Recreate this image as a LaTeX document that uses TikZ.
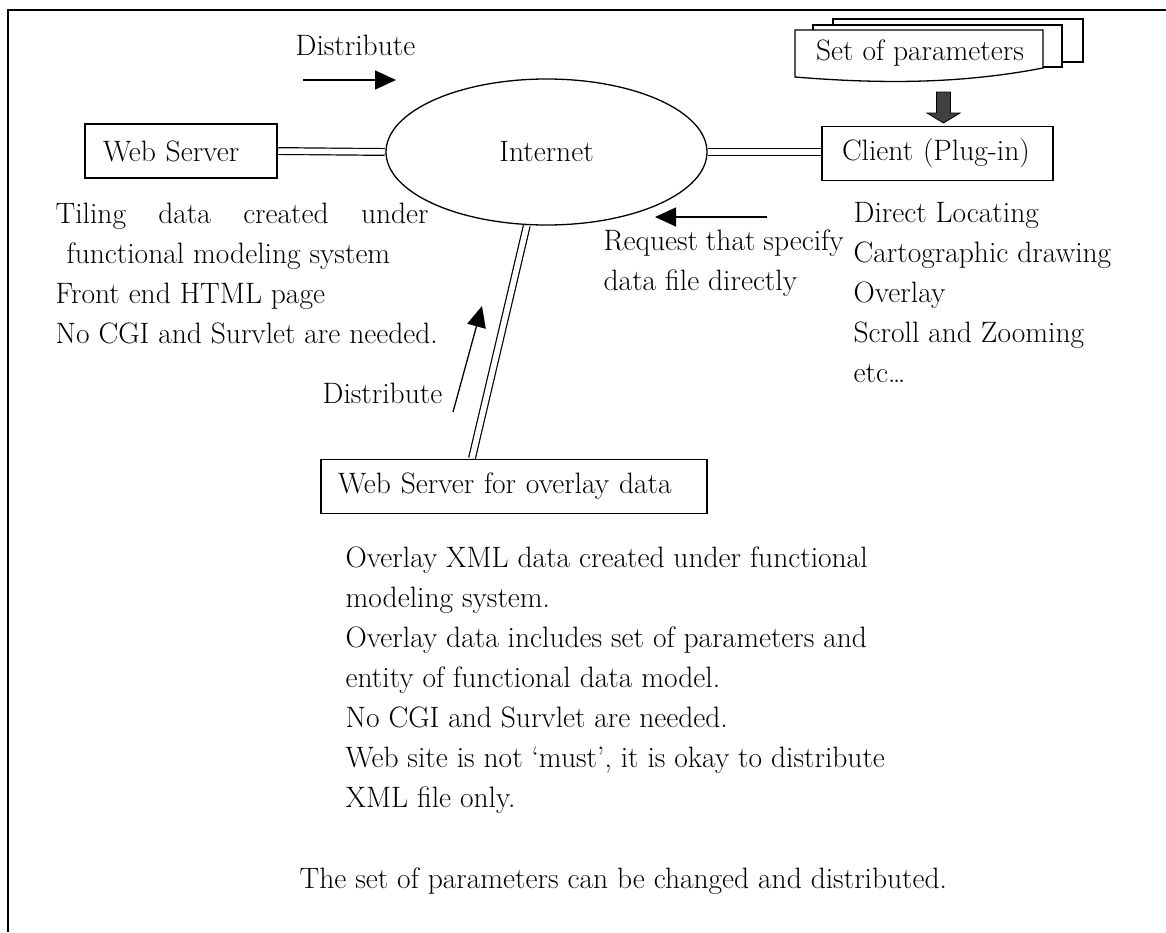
\documentclass[tikz,border=0pt]{standalone}
\usepackage{fontspec}
\usetikzlibrary{shapes.geometric,arrows.meta}
\newcommand\picfont{\fontsize{29.5}{40}\selectfont}
\definecolor{arrowgray}{HTML}{404040}

\begin{document}
\begin{tikzpicture}[x=1pt,y=-1pt,line width=1.3pt,
  box/.style={draw,rectangle,font=\picfont,inner ysep=0pt,align=left,minimum height=54pt},
  txt/.style={font=\picfont,inner sep=0pt,anchor=north west,align=left},
  lbl/.style={font=\picfont,inner sep=0pt,anchor=base west},
  dbl/.style={double,double distance=5.5pt,line width=1.2pt,shorten <=0.6pt,shorten >=0.6pt},
  arr/.style={-{Triangle[length=21pt,width=19pt]}}]
\useasboundingbox (0,0) rectangle (1166,932);
\draw (8,932) -- (8,10) -- (1166,10);

\node[box,inner xsep=18pt,text width=156pt] (web) at (181,151) {Web Server};
\node[draw,ellipse,font=\picfont,minimum width=321pt,minimum height=146pt,inner sep=0pt] (inet) at (546.5,152) {Internet};
\node[box,inner xsep=20pt,text width=191pt] (client) at (937.5,153.5) {Client (Plug-in)};
\node[box,inner xsep=17pt,text width=352pt] (overlay) at (514,486.5) {Web Server for overlay data};

\draw[fill=white] (833,19) rectangle (1083,62);
\draw[fill=white] (813,25) rectangle (1062,67);
\draw[fill=white] (795,30) -- (1043,30) -- (1043,68) .. controls (960,84) and (880,84) .. (795,77) -- cycle;
\node[font=\picfont,inner sep=0pt,anchor=base] (params) at (920,60) {Set of parameters};
\draw[fill=arrowgray,line width=0.8pt] (936.5,92) -- ++(14,0) -- ++(0,21) -- ++(9.5,0) -- (943.5,123) -- (927,113) -- ++(9.5,0) -- cycle;

\draw[dbl] (web.east) -- (inet.west);
\draw[dbl] (inet.east) -- (inet.east -| client.west);
\coordinate (ovtop) at ([xshift=151.5pt]overlay.north west);
\draw[dbl] (inet.-105) -- (ovtop);

\node[lbl] (dist1) at (295,55) {Distribute};
\coordinate (d1a) at (303,80);
\coordinate (d1b) at (396,80);
\draw[arr] (d1a) -- (d1b);

\node[lbl] (dist2) at (322,403) {Distribute};
\coordinate (d2a) at (453,412);
\coordinate (d2b) at (482,306);
\draw[arr] (d2a) -- (d2b);

\coordinate (rqa) at (767,217);
\coordinate (rqb) at (655,217);
\draw[arr] (rqa) -- (rqb);
\node[txt] (req) at (603,222) {\strut\makebox[240pt][s]{Request that specify}\\data file directly};

\node[txt] (tiling) at (55,195) {\strut\makebox[373pt][s]{Tiling data created under}\\\hspace*{11pt}functional modeling system\\Front end HTML page\\No CGI and Survlet are needed.};
\node[txt] (feat) at (853,194) {\strut Direct Locating\\Cartographic drawing\\Overlay\\Scroll and Zooming\\etc…};
\node[txt] (ovtext) at (345,539) {\strut Overlay XML data created under functional\\modeling system.\\Overlay data includes set of parameters and\\entity of functional data model.\\No CGI and Survlet are needed.\\Web site is not ‘must’, it is okay to distribute\\XML file only.};
\node[lbl] (note) at (299,888) {The set of parameters can be changed and distributed.};
\end{tikzpicture}
\end{document}
